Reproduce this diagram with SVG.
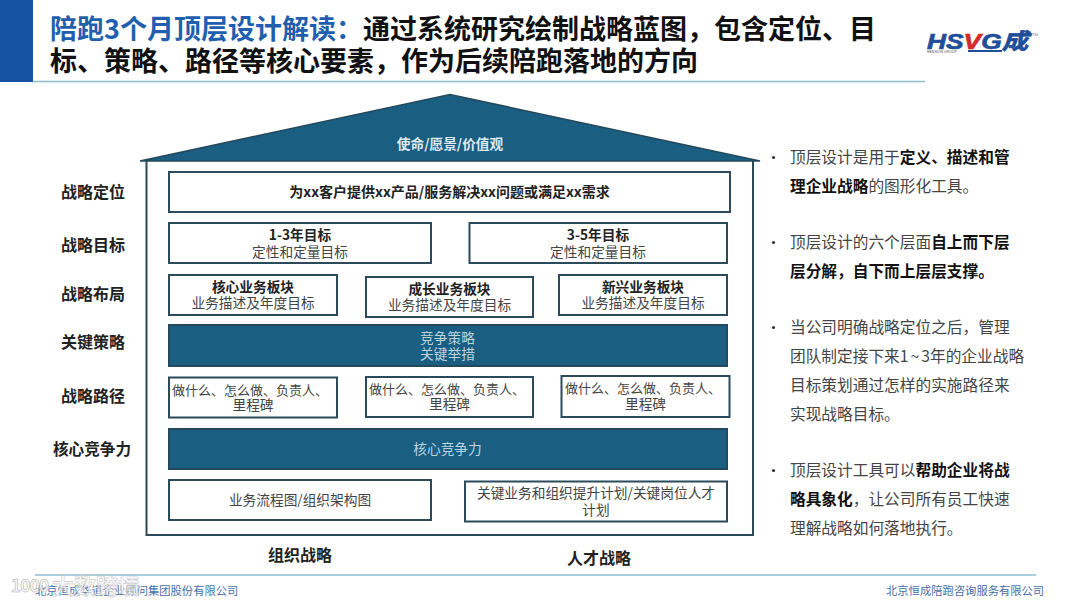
<svg xmlns="http://www.w3.org/2000/svg" width="1080" height="607" viewBox="0 0 1080 607">
<defs>
<style>
text{font-family:"Noto Sans CJK SC","Liberation Sans",sans-serif}
.box{fill:#fff;stroke:#2b4a5a;stroke-width:2}
.dark{fill:#1a5e82;stroke:#24495c;stroke-width:2}
.t{font-size:27px;font-weight:700;fill:#111}
.lab{font-size:16px;font-weight:700;fill:#222;text-anchor:middle}
.b{font-size:13.700px;font-weight:700;fill:#222;text-anchor:middle}
.r{font-size:13.700px;fill:#444;text-anchor:middle}
.p{font-size:13px;fill:#444;text-anchor:middle}
.w{font-size:13.700px;fill:#b9d4e0;text-anchor:middle}
.s{font-size:15.700px;fill:#444}
.k{font-weight:700;fill:#111}
.f{font-size:11.300px;fill:#4a6fa5}
.rule{stroke:#8fbcd0;stroke-width:1.300}
</style>
</defs>
<rect width="1080" height="607" fill="#fff"/>
<g id="header">
<rect x="0" y="0" width="33" height="82" fill="#1553a5"/>
<line class="rule" x1="33" y1="81.500" x2="925" y2="81.500"/>
<text class="t" x="50" y="39"><tspan fill="#1f5fae">陪跑3个月顶层设计解读：</tspan>通过系统研究绘制战略蓝图，包含定位、目</text>
<text class="t" x="50" y="71">标、策略、路径等核心要素，作为后续陪跑落地的方向</text>
</g>
<g id="logo">
<text x="927" y="49" font-size="22" font-weight="700" font-style="italic" fill="#1f4f9a" stroke="#1f4f9a" stroke-width="0.700" textLength="101" lengthAdjust="spacingAndGlyphs" style="font-family:'Liberation Sans',sans-serif">HS<tspan fill="#d42a2a" stroke="#d42a2a">V</tspan>G<tspan style="font-family:'Noto Sans CJK SC',sans-serif">成</tspan></text>
<rect x="968" y="50" width="34" height="2" fill="#1f4f9a"/>
<text x="927" y="53" font-size="3.500" fill="#555" style="font-family:'Liberation Sans',sans-serif">HENSION GROUP</text>
<text x="1032" y="36" font-size="4" fill="#777" style="font-family:'Liberation Sans',sans-serif">TM</text>
</g>
<g id="house">
<path d="M146.500 161V535H753V161" fill="#fff" stroke="#2b4a5a" stroke-width="2"/>
<path d="M140 161L450 94.500L760 161Z" fill="#1a5e82" stroke="#24495c" stroke-width="1.500"/>
<text class="b" x="450" y="149" style="fill:#dce9ef">使命/愿景/价值观</text>
</g>
<g id="positioning">
<rect class="box" x="169" y="172" width="561" height="40"/>
<text class="b" x="449.500" y="197" style="font-size:14px">为xx客户提供xx产品/服务解决xx问题或满足xx需求</text>
</g>
<g id="goal-1-3">
<rect class="box" x="169" y="223" width="262" height="40"/>
<text class="b" x="300" y="240">1-3年目标</text>
<text class="r" x="300" y="257">定性和定量目标</text>
</g>
<g id="goal-3-5">
<rect class="box" x="469.500" y="223" width="257.500" height="40"/>
<text class="b" x="598" y="240">3-5年目标</text>
<text class="r" x="598" y="257">定性和定量目标</text>
</g>
<g id="core-business">
<rect class="box" x="169" y="275" width="168" height="40"/>
<text class="b" x="253" y="292">核心业务板块</text>
<text class="r" x="253" y="308">业务描述及年度目标</text>
</g>
<g id="growth-business">
<rect class="box" x="366" y="277" width="167" height="40"/>
<text class="b" x="449.500" y="294">成长业务板块</text>
<text class="r" x="449.500" y="310">业务描述及年度目标</text>
</g>
<g id="new-business">
<rect class="box" x="559" y="275" width="168" height="40"/>
<text class="b" x="643" y="292">新兴业务板块</text>
<text class="r" x="643" y="308">业务描述及年度目标</text>
</g>
<g id="strategy">
<rect class="dark" x="169" y="325" width="558" height="41"/>
<text class="w" x="447.500" y="343">竞争策略</text>
<text class="w" x="447.500" y="359">关键举措</text>
</g>
<g id="path-1">
<rect class="box" x="169" y="377.500" width="168" height="40"/>
<text class="p" x="250" y="395">做什么、怎么做、负责人、</text>
<text class="r" x="253" y="410">里程碑</text>
</g>
<g id="path-2">
<rect class="box" x="366" y="377" width="167" height="40"/>
<text class="p" x="447" y="394">做什么、怎么做、负责人、</text>
<text class="r" x="449.500" y="409">里程碑</text>
</g>
<g id="path-3">
<rect class="box" x="561.500" y="376" width="168" height="41"/>
<text class="p" x="643" y="393">做什么、怎么做、负责人、</text>
<text class="r" x="645.500" y="409">里程碑</text>
</g>
<g id="competence">
<rect class="dark" x="169" y="429" width="558" height="40"/>
<text class="w" x="447.500" y="454">核心竞争力</text>
</g>
<g id="org-strategy">
<rect class="box" x="169" y="480" width="262" height="40"/>
<text class="r" x="300" y="505">业务流程图/组织架构图</text>
</g>
<g id="talent-strategy">
<rect class="box" x="465" y="481.500" width="262" height="40"/>
<text class="r" x="596" y="498">关键业务和组织提升计划/关键岗位人才</text>
<text class="r" x="596" y="515">计划</text>
</g>
<g id="row-labels">
<text class="lab" x="93" y="198">战略定位</text>
<text class="lab" x="93" y="251">战略目标</text>
<text class="lab" x="93" y="300">战略布局</text>
<text class="lab" x="93" y="348">关键策略</text>
<text class="lab" x="93" y="402">战略路径</text>
<text class="lab" x="92" y="455" style="font-size:15.600px">核心竞争力</text>
<text class="lab" x="300" y="561">组织战略</text>
<text class="lab" x="599" y="564">人才战略</text>
</g>
<g id="notes">
<circle cx="773.500" cy="157.500" r="1.600" fill="#333"/>
<text class="s" x="790" y="163">顶层设计是用于<tspan class="k">定义、描述和管</tspan></text>
<text class="s" x="790" y="192"><tspan class="k">理企业战略</tspan>的图形化工具。</text>
<circle cx="773.500" cy="242.500" r="1.600" fill="#333"/>
<text class="s" x="790" y="248">顶层设计的六个层面<tspan class="k">自上而下层</tspan></text>
<text class="s" x="790" y="277"><tspan class="k">层分解，自下而上层层支撑。</tspan></text>
<circle cx="773.500" cy="327.500" r="1.600" fill="#333"/>
<text class="s" x="790" y="333">当公司明确战略定位之后，管理</text>
<text class="s" x="790" y="362">团队制定接下来1<tspan dx="2">~</tspan><tspan dx="2">3</tspan>年的企业战略</text>
<text class="s" x="790" y="391">目标策划通过怎样的实施路径来</text>
<text class="s" x="790" y="420">实现战略目标。</text>
<circle cx="773.500" cy="470.500" r="1.600" fill="#333"/>
<text class="s" x="790" y="476">顶层设计工具可以<tspan class="k">帮助企业将战</tspan></text>
<text class="s" x="790" y="505"><tspan class="k">略具象化</tspan>，让公司所有员工快速</text>
<text class="s" x="790" y="534">理解战略如何落地执行。</text>
</g>
<g id="footer">
<line class="rule" x1="35" y1="575" x2="1036" y2="575"/>
<text class="f" x="35" y="595">北京恒成华道企业顾问集团股份有限公司</text>
<text class="f" x="886" y="595">北京恒成陪跑咨询服务有限公司</text>
<text x="11" y="592" font-size="17" font-weight="700" fill="#f4f4f4" fill-opacity="0.750" stroke="#aaa" stroke-width="0.500" textLength="38">1000</text>
<text x="52" y="594" font-size="22" font-weight="700" fill="#f4f4f4" fill-opacity="0.650" stroke="#bbb" stroke-width="0.400">大数跨境</text>
</g>
</svg>
